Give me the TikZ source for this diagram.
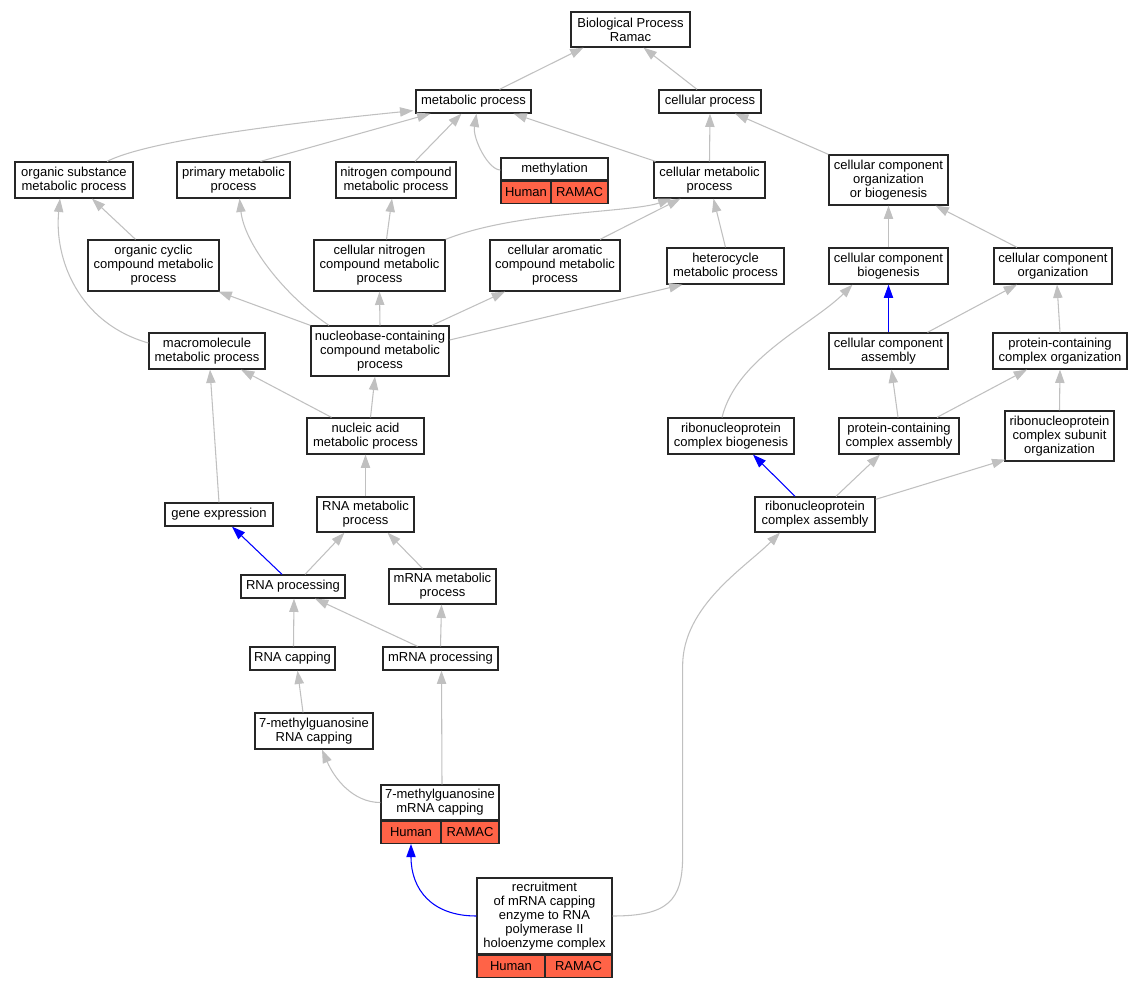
\documentclass[tikz,border=0pt]{standalone}
\usepackage{fontspec}
\setmainfont{Liberation Sans}
\usetikzlibrary{arrows.meta,calc}
\definecolor{tomato}{HTML}{FF6347}
\definecolor{edgegray}{HTML}{C0C0C0}

\begin{document}
\begin{tikzpicture}[x=0.75pt,y=-0.75pt,
        term/.style={draw=black!85, line width=0.95pt, fill=white, align=center, inner sep=1pt, font=\fontsize{9.75}{10.5}\selectfont},
        sz/.style 2 args={minimum width=#1*0.75pt, minimum height=#2*0.75pt},
        tag/.style={term, fill=tomato},
        isa/.style={draw=edgegray, line width=0.8pt, -{Triangle[length=10pt,width=7pt]}},
        hit/.style={isa, draw=blue}]
        \useasboundingbox (0,0) rectangle (1143,987);

        \node[term, sz={119}{35}] (bp) at (630.5, 29.5) {Biological Process\\Ramac};
        \node[term, sz={115}{23}] (met) at (473.5, 101.5) {metabolic process};
        \node[term, sz={102}{23}] (cel) at (710, 101.5) {cellular process};
        \node[term, sz={118}{36}] (osm) at (74, 180) {organic substance\\metabolic process};
        \node[term, sz={113}{36}] (pmp) at (233.5, 180) {primary metabolic\\process};
        \node[term, sz={120}{36}] (ncm) at (396, 180) {nitrogen compound\\metabolic process};
        \node[term, sz={107}{22}] (meth) at (554.5, 169) {methylation};
        \node[tag, sz={50}{22}, anchor=north west] (methH) at (meth.south west) {Human};
        \node[tag, sz={57}{22}, anchor=north east] (methR) at (meth.south east) {RAMAC};
        \node[term, sz={111}{36}] (cmp) at (709.5, 180) {cellular metabolic\\process};
        \node[term, sz={119}{50}] (ccob) at (888.5, 180) {cellular component\\organization\\or biogenesis};
        \node[term, sz={131}{51}] (occ) at (153.5, 265.5) {organic cyclic\\compound metabolic\\process};
        \node[term, sz={131}{51}] (cnc) at (379.5, 265.5) {cellular nitrogen\\compound metabolic\\process};
        \node[term, sz={130}{51}] (cac) at (555, 265.5) {cellular aromatic\\compound metabolic\\process};
        \node[term, sz={117}{36}] (het) at (725.5, 266) {heterocycle\\metabolic process};
        \node[term, sz={119}{36}] (ccb) at (888.5, 266) {cellular component\\biogenesis};
        \node[term, sz={118}{36}] (cco) at (1053, 266) {cellular component\\organization};
        \node[term, sz={116}{36}] (mac) at (207, 351) {macromolecule\\metabolic process};
        \node[term, sz={138}{50}] (nbc) at (380, 351) {nucleobase-containing\\compound metabolic\\process};
        \node[term, sz={119}{36}] (cca) at (888.5, 351) {cellular component\\assembly};
        \node[term, sz={134}{36}] (pco) at (1060, 351) {protein-containing\\complex organization};
        \node[term, sz={117}{36}] (nam) at (365.5, 436) {nucleic acid\\metabolic process};
        \node[term, sz={126}{36}] (rcb) at (731, 436) {ribonucleoprotein\\complex biogenesis};
        \node[term, sz={120}{36}] (pca) at (899, 436) {protein-containing\\complex assembly};
        \node[term, sz={109}{50}] (rso) at (1059.5, 436) {ribonucleoprotein\\complex subunit\\organization};
        \node[term, sz={108}{23}] (gex) at (219, 514.5) {gene expression};
        \node[term, sz={97}{35}] (rmp) at (365.5, 514.5) {RNA metabolic\\process};
        \node[term, sz={120}{35}] (rca) at (815, 514.5) {ribonucleoprotein\\complex assembly};
        \node[term, sz={104}{23}] (rpr) at (293, 586.5) {RNA processing};
        \node[term, sz={107}{35}] (mmp) at (442.5, 586.5) {mRNA metabolic\\process};
        \node[term, sz={85}{23}] (rcap) at (292.5, 658.5) {RNA capping};
        \node[term, sz={115}{23}] (mpr) at (440.5, 658.5) {mRNA processing};
        \node[term, sz={118}{36}] (mgr) at (314, 731) {7-methylguanosine\\RNA capping};
        \node[term, sz={118}{35}] (mgm) at (440, 802.5) {7-methylguanosine\\mRNA capping};
        \node[tag, sz={60}{22}, anchor=north west] (mgmH) at (mgm.south west) {Human};
        \node[tag, sz={58}{22}, anchor=north east] (mgmR) at (mgm.south east) {RAMAC};
        \node[term, sz={135}{76}] (rec) at (544.5, 916) {recruitment\\of mRNA capping\\enzyme to RNA\\polymerase II\\holoenzyme complex};
        \node[tag, sz={68}{22}, anchor=north west] (recH) at (rec.south west) {Human};
        \node[tag, sz={67}{22}, anchor=north east] (recR) at (rec.south east) {RAMAC};

        \draw[isa] ($(met.north)+(26,0)$) -- ($(bp.south)+(-47,0)$);
        \draw[isa] ($(cel.north)+(-13,0)$) -- ($(bp.south)+(13,0)$);
        \draw[isa] ($(osm.north)+(33,0)$) .. controls +(40,-20) and +(-140,14) .. ($(met.south west)+(-2,-3)$);
        \draw[isa] ($(pmp.north)+(27,0)$) -- ($(met.south)+(-43,0)$);
        \draw[isa] ($(ncm.north)+(19,0)$) -- ($(met.south)+(-12,0)$);
        \draw[isa] ($(meth.west)+(0,1)$) .. controls +(-12,0) and +(-4,25) .. ($(met.south)+(3,0)$);
        \draw[isa] ($(cmp.north)+(-54,0)$) -- ($(met.south)+(40,0)$);
        \draw[isa] (cmp.north) -- (cel.south);
        \draw[isa] (ccob.north west) -- ($(cel.south)+(25,0)$);
        \draw[isa] ($(occ.north)+(-18,0)$) -- ($(osm.south)+(18,0)$);
        \draw[isa] ($(mac.west)+(0,-8)$) .. controls +(-70,-20) and +(-6,60) .. ($(osm.south)+(-14,0)$);
        \draw[isa] ($(nbc.north)+(-51,0)$) .. controls +(-45,-30) and +(5,45) .. ($(pmp.south)+(6,0)$);
        \draw[isa] (nbc.north west) -- ($(occ.south)+(65,0)$);
        \draw[isa] (nbc.north) -- (cnc.south);
        \draw[isa] ($(nbc.north)+(52,0)$) -- ($(cac.south)+(-50,0)$);
        \draw[isa] ($(nbc.east)+(0,-11)$) -- ($(het.south)+(-43,0)$);
        \draw[isa] ($(cnc.north)+(7,0)$) -- ($(ncm.south)+(-4,0)$);
        \draw[isa] (cnc.north east) .. controls +(70,-28) and +(-40,14) .. ($(cmp.south)+(-38,0)$);
        \draw[isa] ($(cac.north)+(45,0)$) -- ($(cmp.south)+(-29,0)$);
        \draw[isa] (het.north) -- ($(cmp.south)+(4,0)$);
        \draw[isa] (ccb.north) -- (ccob.south);
        \draw[isa] ($(cco.north)+(-36,0)$) -- ($(ccob.south)+(47,0)$);
        \draw[isa] ($(nam.north)+(-34,0)$) -- ($(mac.south)+(34,0)$);
        \draw[isa] ($(nam.north)+(5,0)$) -- ($(nbc.south)+(-5,0)$);
        \draw[isa] (gex.north) -- ($(mac.south)+(3,0)$);
        \draw[isa] (rmp.north) -- (nam.south);
        \draw[hit] ($(rpr.north)+(-11,0)$) -- ($(gex.south)+(13,0)$);
        \draw[isa] ($(rpr.north)+(12,0)$) -- ($(rmp.south)+(-21,0)$);
        \draw[isa] ($(mmp.north)+(-20,0)$) -- ($(rmp.south)+(22,0)$);
        \draw[isa] ($(rcap.north)+(1,0)$) -- ($(rpr.south)+(1,0)$);
        \draw[isa] ($(mpr.north)+(-23,0)$) -- ($(rpr.south)+(22,0)$);
        \draw[isa] (mpr.north) -- ($(mmp.south)+(-1,0)$);
        \draw[isa] ($(mgr.north)+(-11,0)$) -- ($(rcap.south)+(5,0)$);
        \draw[isa] (mgm.west) .. controls +(-28,0) and +(12,28) .. ($(mgr.south)+(8,0)$);
        \draw[isa] ($(mgm.north)+(2,0)$) -- ($(mpr.south)+(1,0)$);
        \draw[hit] (rec.west) .. controls +(-45,0) and +(0,45) .. (mgmH.south);
        \draw[isa] (rec.east) .. controls +(55,0) and +(0,45) .. ++(70,-60) -- ++(0,-190) .. controls +(0,-60) and +(-35,35) .. ($(rca.south)+(-35,0)$);
        \draw[hit] (cca.north) -- (ccb.south);
        \draw[isa] ($(cca.north)+(39,0)$) -- ($(cco.south)+(-36,0)$);
        \draw[isa] (pco.north) -- ($(cco.south)+(4,0)$);
        \draw[isa] ($(rcb.north)+(-9,0)$) .. controls +(15,-60) and +(-40,40) .. ($(ccb.south)+(-36,0)$);
        \draw[isa] ($(pca.north)+(-1,0)$) -- ($(cca.south)+(3,0)$);
        \draw[isa] ($(pca.north)+(38,0)$) -- ($(pco.south)+(-33,0)$);
        \draw[isa] (rso.north) -- (pco.south);
        \draw[hit] ($(rca.north)+(-20,0)$) -- ($(rcb.south)+(22,0)$);
        \draw[isa] ($(rca.north)+(21,0)$) -- ($(pca.south)+(-19,0)$);
        \draw[isa] ($(rca.north east)+(0,3)$) -- ($(rso.south west)+(1,-2)$);
    \end{tikzpicture}
\end{document}
